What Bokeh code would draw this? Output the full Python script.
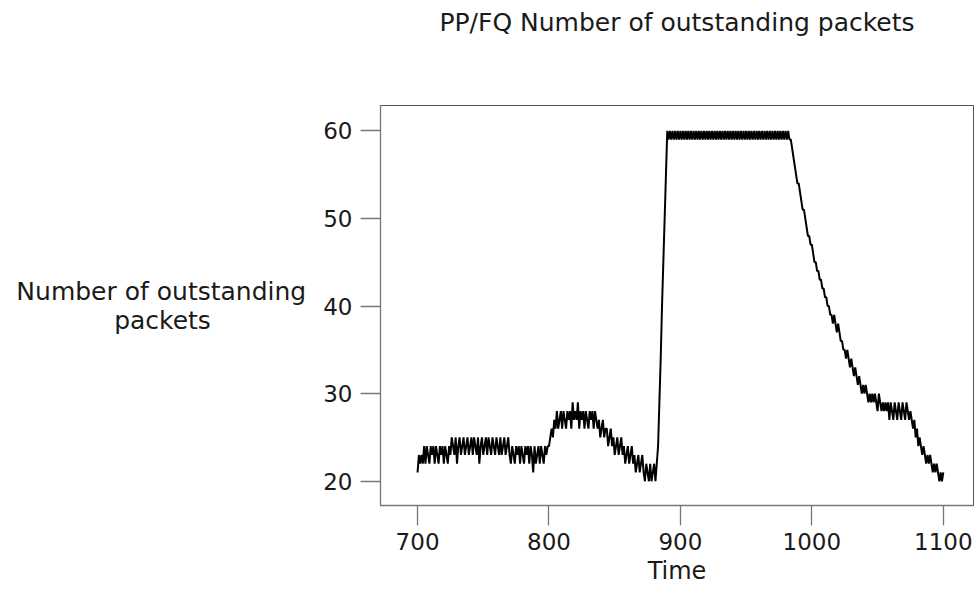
from bokeh.plotting import figure
from bokeh.models import Range1d, FixedTicker, Title
from bokeh.embed import file_html
from bokeh.resources import INLINE

# ---- text ----
title_text = "PP/FQ Number of outstanding packets"
x_label = "Time"
y_label_line1 = "Number of outstanding"
y_label_line2 = "packets"
x_ticks = [700, 800, 900, 1000, 1100]
y_ticks = [20, 30, 40, 50, 60]

# ---- data: number of outstanding packets, read per time unit ----
start_1 = 700
packets_1 = [21, 23, 22, 23, 22, 24, 22, 24, 23, 22, 24, 23, 24, 22, 24, 23, 22, 24, 23, 24,
             22, 24, 23, 22, 24]
start_2 = 725
packets_2 = [23, 25, 24, 23, 25, 22, 24, 25, 23, 24, 25, 23, 24, 25, 23, 24, 25, 23, 25, 24,
             23, 25, 22, 24, 25, 23, 24, 25, 23, 25, 24, 23, 25, 24, 23, 25, 24, 23, 25, 23,
             24, 25, 23, 24, 25]
start_3 = 770
packets_3 = [23, 22, 24, 23, 22, 24, 23, 24, 22, 24, 23, 22, 24, 23, 24, 22, 24, 23, 21, 24,
             22, 23, 24, 22, 24, 23, 22, 24, 23, 24]
start_4 = 800
packets_4 = [24, 25, 26, 25, 27, 26]
start_5 = 806
packets_5 = [28, 26, 27, 28, 26, 28, 27, 26, 28, 27, 28, 26, 29, 27, 28, 27, 29, 26, 28, 27,
             28, 26, 28, 27, 26, 28, 27, 28, 26, 28, 27, 26]
start_6 = 838
packets_6 = [27, 25, 26, 27, 25, 26, 26, 24, 25, 26, 24, 25, 23, 24, 25, 23, 24, 25, 23, 24,
             22, 23, 24, 22, 23, 24, 22, 23, 21, 22, 23, 21, 22, 23, 21, 20, 22, 21, 20, 22,
             20, 21, 22, 20]
start_7 = 882
packets_7 = [22, 24, 29, 34, 40, 45, 50, 55]
start_8 = 890
packets_8 = [60, 59, 60, 59, 60, 59, 60, 59, 60, 59, 60, 59, 60, 59, 60, 59, 60, 59, 60, 59,
             60, 59, 60, 59, 60, 59, 60, 59, 60, 59, 60, 59, 60, 59, 60, 59, 60, 59, 60, 59,
             60, 59, 60, 59, 60, 59, 60, 59, 60, 59, 60, 59, 60, 59, 60, 59, 60, 59, 60, 59,
             60, 59, 60, 59, 60, 59, 60, 59, 60, 59, 60, 59, 60, 59, 60, 59, 60, 59, 60, 59,
             60, 59, 60, 59, 60, 59, 60, 59, 60, 59, 60, 59, 60, 59]
start_9 = 984
packets_9 = [59, 58, 57, 56, 55, 54, 54, 53, 52, 51,
             51, 50, 49, 48, 48, 47, 47, 46, 45, 45,
             44, 44, 43, 43, 42, 42, 41, 41, 40, 40,
             39, 39, 38, 39, 38, 37, 38, 37, 36, 36,
             35, 35, 34, 35, 34, 33, 34, 33, 32, 33,
             32, 31, 32, 31, 30, 31, 30, 31, 30, 29,
             30, 29, 30, 29, 30, 29, 28, 30, 29, 28,
             29, 28, 29, 28, 29, 27, 29, 28, 27, 29,
             28, 27, 29, 28, 27, 29, 28, 27, 29, 28,
             27, 28, 27, 26, 27, 25, 26, 24, 25, 24,
             23, 24, 23, 22, 23, 22, 23, 22, 21, 22,
             21, 22, 21, 20, 21, 20, 21]

segments = [(start_1, packets_1), (start_2, packets_2), (start_3, packets_3),
            (start_4, packets_4), (start_5, packets_5), (start_6, packets_6),
            (start_7, packets_7), (start_8, packets_8), (start_9, packets_9)]

times = []
counts = []
for s, vals in segments:
    for i, v in enumerate(vals):
        times.append(s + i)
        counts.append(v)

FONT = "DejaVu Sans"
TXT = "#1a1a1a"

p = figure(width=980, height=601, output_backend="svg", toolbar_location=None,
           x_range=Range1d(671.8, 1123.0), y_range=Range1d(17.23, 62.89),
           min_border_left=380, min_border_right=7, min_border_top=105, min_border_bottom=96)

p.line(times, counts, line_color="black", line_width=2)

p.xgrid.visible = False
p.ygrid.visible = False
p.outline_line_color = "#555555"
p.outline_line_width = 1
p.background_fill_color = "white"
p.border_fill_color = "white"

for ax in (p.xaxis[0], p.yaxis[0]):
    ax.axis_line_color = "#777777"
    ax.axis_line_width = 1.3
    ax.major_tick_line_color = "#777777"
    ax.major_tick_line_width = 1.3
    ax.major_tick_in = 0
    ax.major_tick_out = 20
    ax.minor_tick_line_color = None
    ax.major_label_text_font = FONT
    ax.major_label_text_font_size = "23px"
    ax.major_label_text_color = TXT
    ax.axis_label_text_font = FONT
    ax.axis_label_text_font_style = "normal"
    ax.axis_label_text_color = TXT

p.xaxis.ticker = FixedTicker(ticks=x_ticks)
p.yaxis.ticker = FixedTicker(ticks=y_ticks)
p.xaxis.major_label_standoff = 7
p.yaxis.major_label_standoff = 8

p.xaxis.axis_label = x_label
p.xaxis.axis_label_text_font_size = "24px"
p.xaxis.axis_label_standoff = 4

# second line padded with no-break spaces so that it sits centred under the first
p.yaxis.axis_label = y_label_line1 + "\n" + y_label_line2 + "\u00a0" * 12
p.yaxis.axis_label_orientation = "horizontal"
p.yaxis.axis_label_text_font_size = "25px"
p.yaxis.axis_label_text_line_height = 1.0
p.yaxis.axis_label_standoff = 14

# spacer panel next to the frame (a blank no-break space), then the real title at the top
p.title.text = ""
spacer = Title(text="\u00a0", text_font=FONT, text_font_size="10px", standoff=54)
p.add_layout(spacer, "above")
top_title = Title(text=title_text, align="center", text_font=FONT, text_font_size="25px",
                  text_font_style="normal", text_color=TXT, standoff=4)
p.add_layout(top_title, "above")

open("out.html", "w").write(file_html(p, INLINE))
